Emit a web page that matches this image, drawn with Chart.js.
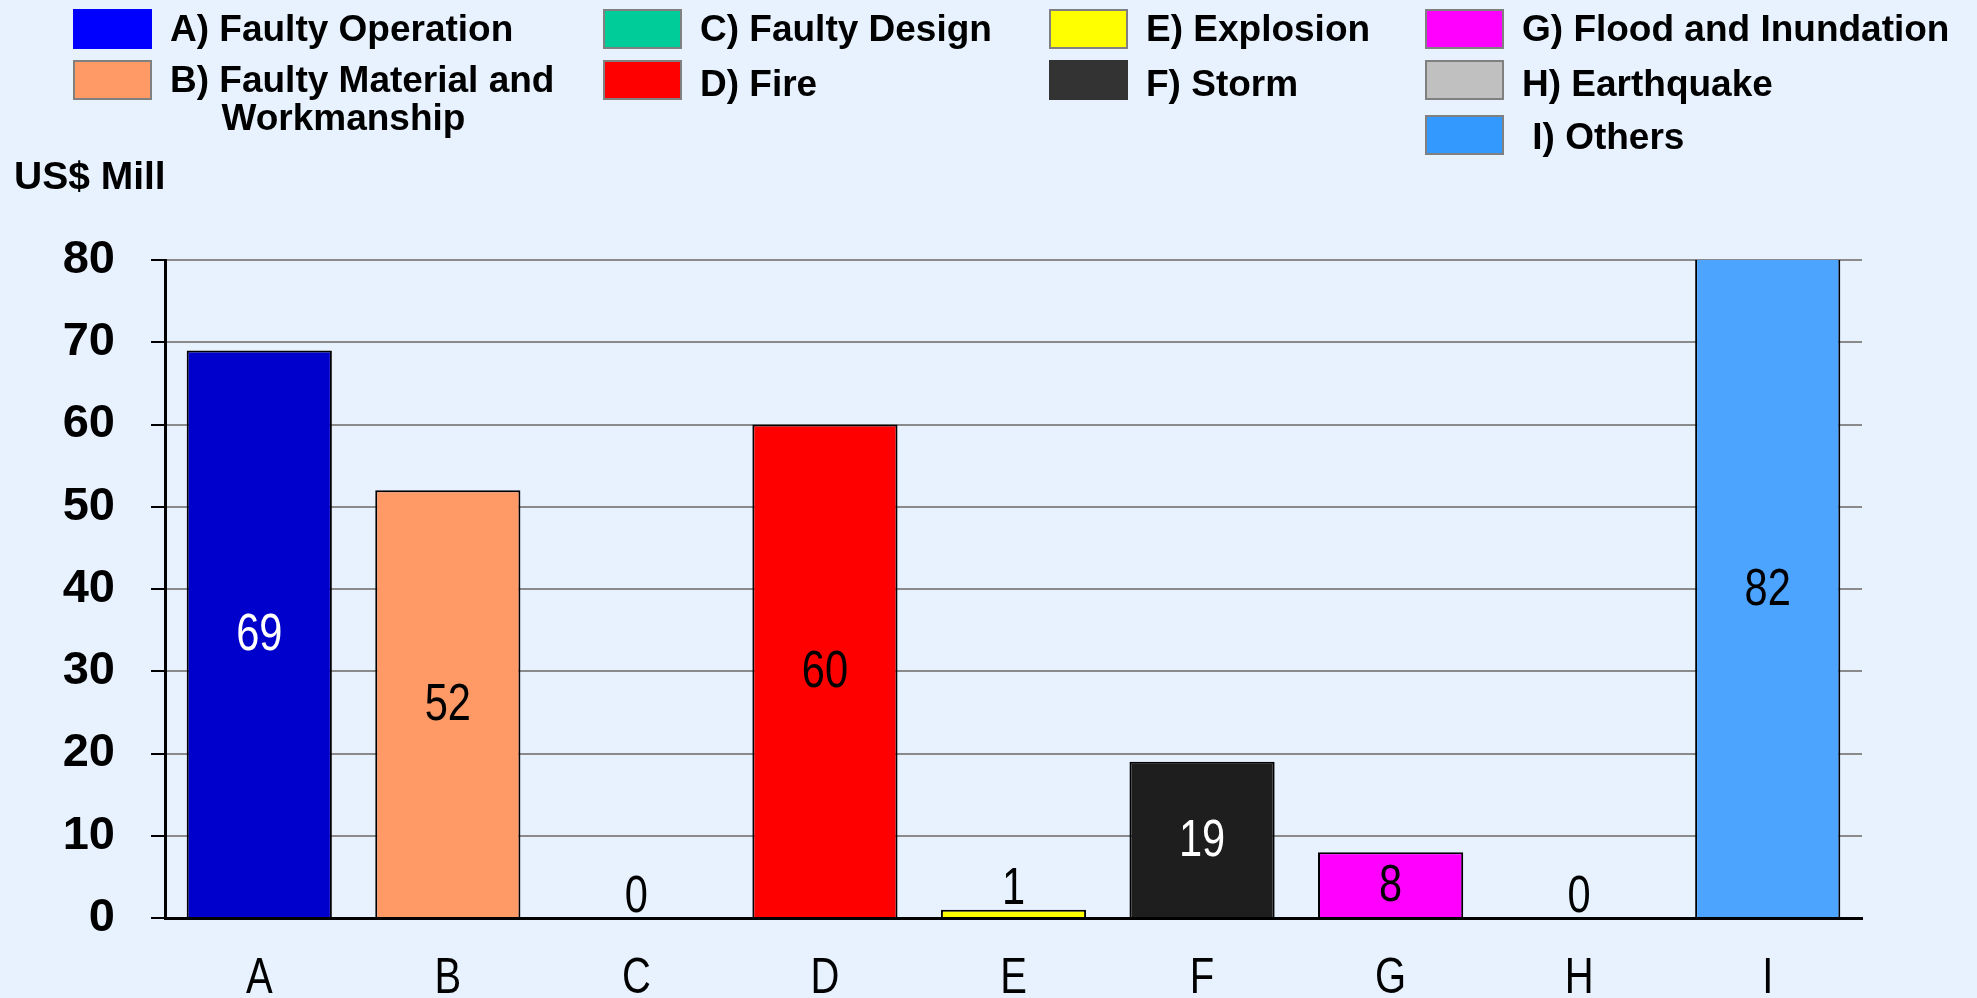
<!DOCTYPE html>
<html lang="en">
<head>
    <meta charset="UTF-8">
    <title>Losses by Cause</title>
    <script src="https://cdn.jsdelivr.net/npm/chart.js"></script>
    <style>
        html, body { margin: 0; padding: 0; background: #E8F2FE; }
        #wrap { position: relative; width: 1977px; height: 998px; overflow: hidden; }
        #lossChart { position: absolute; left: 0; top: 0; }
        .legend-box { position: absolute; width: 75px; height: 36px; border: 2px solid #808080; }
        .legend-text { position: absolute; font: bold 37px "Liberation Sans", Arial, sans-serif;
                       line-height: 38px; color: #000; white-space: pre; }
        #unit { position: absolute; left: 14px; top: 156px; font: bold 39px "Liberation Sans", Arial, sans-serif;
                line-height: 39px; color: #000; }
    </style>
</head>
<body>
<div id="wrap">
    <canvas id="lossChart" width="1977" height="998"></canvas>
    <div id="legend"></div>
    <div id="unit">US$ Mill</div>
</div>
<script>
    // chart data
    const categories = ['A', 'B', 'C', 'D', 'E', 'F', 'G', 'H', 'I'];
    const lossValues = [69, 52, 0, 60, 1, 19, 8, 0, 82];
    const causeNames = [
        'A) Faulty Operation',
        'B) Faulty Material and\n     Workmanship',
        'C) Faulty Design',
        'D) Fire',
        'E) Explosion',
        'F) Storm',
        'G) Flood and Inundation',
        'H) Earthquake',
        ' I) Others'
    ];
    const barColors = ['#0000CC', '#FF9966', '#00CC99', '#FF0000', '#FFFF00', '#1E1E1E', '#FF00FF', '#C0C0C0', '#4CA4FF'];
    const legendColors = ['#0000FF', '#FF9966', '#00CC99', '#FF0000', '#FFFF00', '#333333', '#FF00FF', '#C0C0C0', '#3399FF'];
    const valueLabelColors = ['#fff', '#000', '#000', '#000', '#000', '#fff', '#000', '#000', '#000'];
    const yMin = 0;
    const yMax = 80;
    const yStep = 10;

    // legend placement: column / row of each cause
    const legendCol = [0, 0, 1, 1, 2, 2, 3, 3, 3];
    const legendRow = [0, 1, 0, 1, 0, 1, 0, 1, 2];
    const colX = [73, 603, 1049, 1425];
    const rowY = [29, 80, 135];

    const legendEl = document.getElementById('legend');
    causeNames.forEach((name, i) => {
        const col = legendCol[i], row = legendRow[i];
        const box = document.createElement('div');
        box.className = 'legend-box';
        box.style.left = colX[col] + 'px';
        box.style.top = (rowY[row] - 20) + 'px';
        box.style.background = legendColors[i];
        if (i === 0 || i === 5) box.style.borderColor = legendColors[i];
        legendEl.appendChild(box);

        // the second row sits a little lower outside the first column
        let dy = 0;
        if (row === 1 && col > 0) dy = 4;
        if (row === 2) dy = 2;
        const txt = document.createElement('div');
        txt.className = 'legend-text';
        txt.style.left = (colX[col] + 97) + 'px';
        txt.style.top = (rowY[row] - 19 + dy) + 'px';
        txt.textContent = name;
        legendEl.appendChild(txt);
    });

    // condensed text helper (narrow look of the original labels)
    function narrowText(ctx, text, x, y, squeeze) {
        ctx.save();
        ctx.translate(x, y);
        ctx.scale(squeeze, 1);
        ctx.fillText(text, 0, 0);
        ctx.restore();
    }

    // value labels in (or just above) each bar, plus the category letters
    const valueLabels = {
        id: 'valueLabels',
        afterDatasetsDraw(chart) {
            const ctx = chart.ctx;
            const area = chart.chartArea;
            const meta = chart.getDatasetMeta(0);
            ctx.save();
            ctx.font = '52px "Liberation Sans", sans-serif';
            ctx.textAlign = 'center';
            meta.data.forEach((bar, i) => {
                const top = Math.max(bar.y, area.top);
                const h = bar.base - top;
                ctx.fillStyle = valueLabelColors[i];
                if (h < 45) {
                    ctx.textBaseline = 'alphabetic';
                    narrowText(ctx, String(lossValues[i]), bar.x, top - 6, 0.8);
                } else {
                    ctx.textBaseline = 'middle';
                    narrowText(ctx, String(lossValues[i]), bar.x, (top + bar.base) / 2 + 2, 0.8);
                }
            });

            const xScale = chart.scales.x;
            ctx.font = '50px "Liberation Sans", sans-serif';
            ctx.fillStyle = '#000';
            ctx.textBaseline = 'middle';
            categories.forEach((c, i) => {
                narrowText(ctx, c, xScale.getPixelForTick(i), area.bottom + 61, 0.8);
            });
            ctx.restore();
        }
    };

    const ctx = document.getElementById('lossChart').getContext('2d');
    new Chart(ctx, {
        type: 'bar',
        data: {
            labels: categories,
            datasets: [{
                data: lossValues,
                backgroundColor: barColors,
                borderColor: '#000',
                borderWidth: 2,
                categoryPercentage: 1,
                barPercentage: 0.77,
                clip: 0
            }]
        },
        options: {
            responsive: false,
            animation: false,
            layout: { padding: { top: 260, right: 115, bottom: 0, left: 0 } },
            plugins: {
                legend: { display: false },
                tooltip: { enabled: false }
            },
            scales: {
                x: {
                    grid: { display: false, drawTicks: false },
                    border: { display: true, color: '#000', width: 3 },
                    ticks: { display: false },
                    afterFit(scale) { scale.height = 80; }
                },
                y: {
                    min: yMin,
                    max: yMax,
                    ticks: {
                        stepSize: yStep,
                        color: '#000',
                        padding: 36,
                        font: { family: '"Liberation Sans", Arial, sans-serif', size: 47, weight: 'bold' }
                    },
                    grid: { color: '#8A8A8A', lineWidth: 2, tickColor: '#000', tickLength: 14 },
                    border: { display: true, color: '#000', width: 3 },
                    afterFit(scale) { scale.width = 165; }
                }
            }
        },
        plugins: [valueLabels]
    });
</script>
</body>
</html>
